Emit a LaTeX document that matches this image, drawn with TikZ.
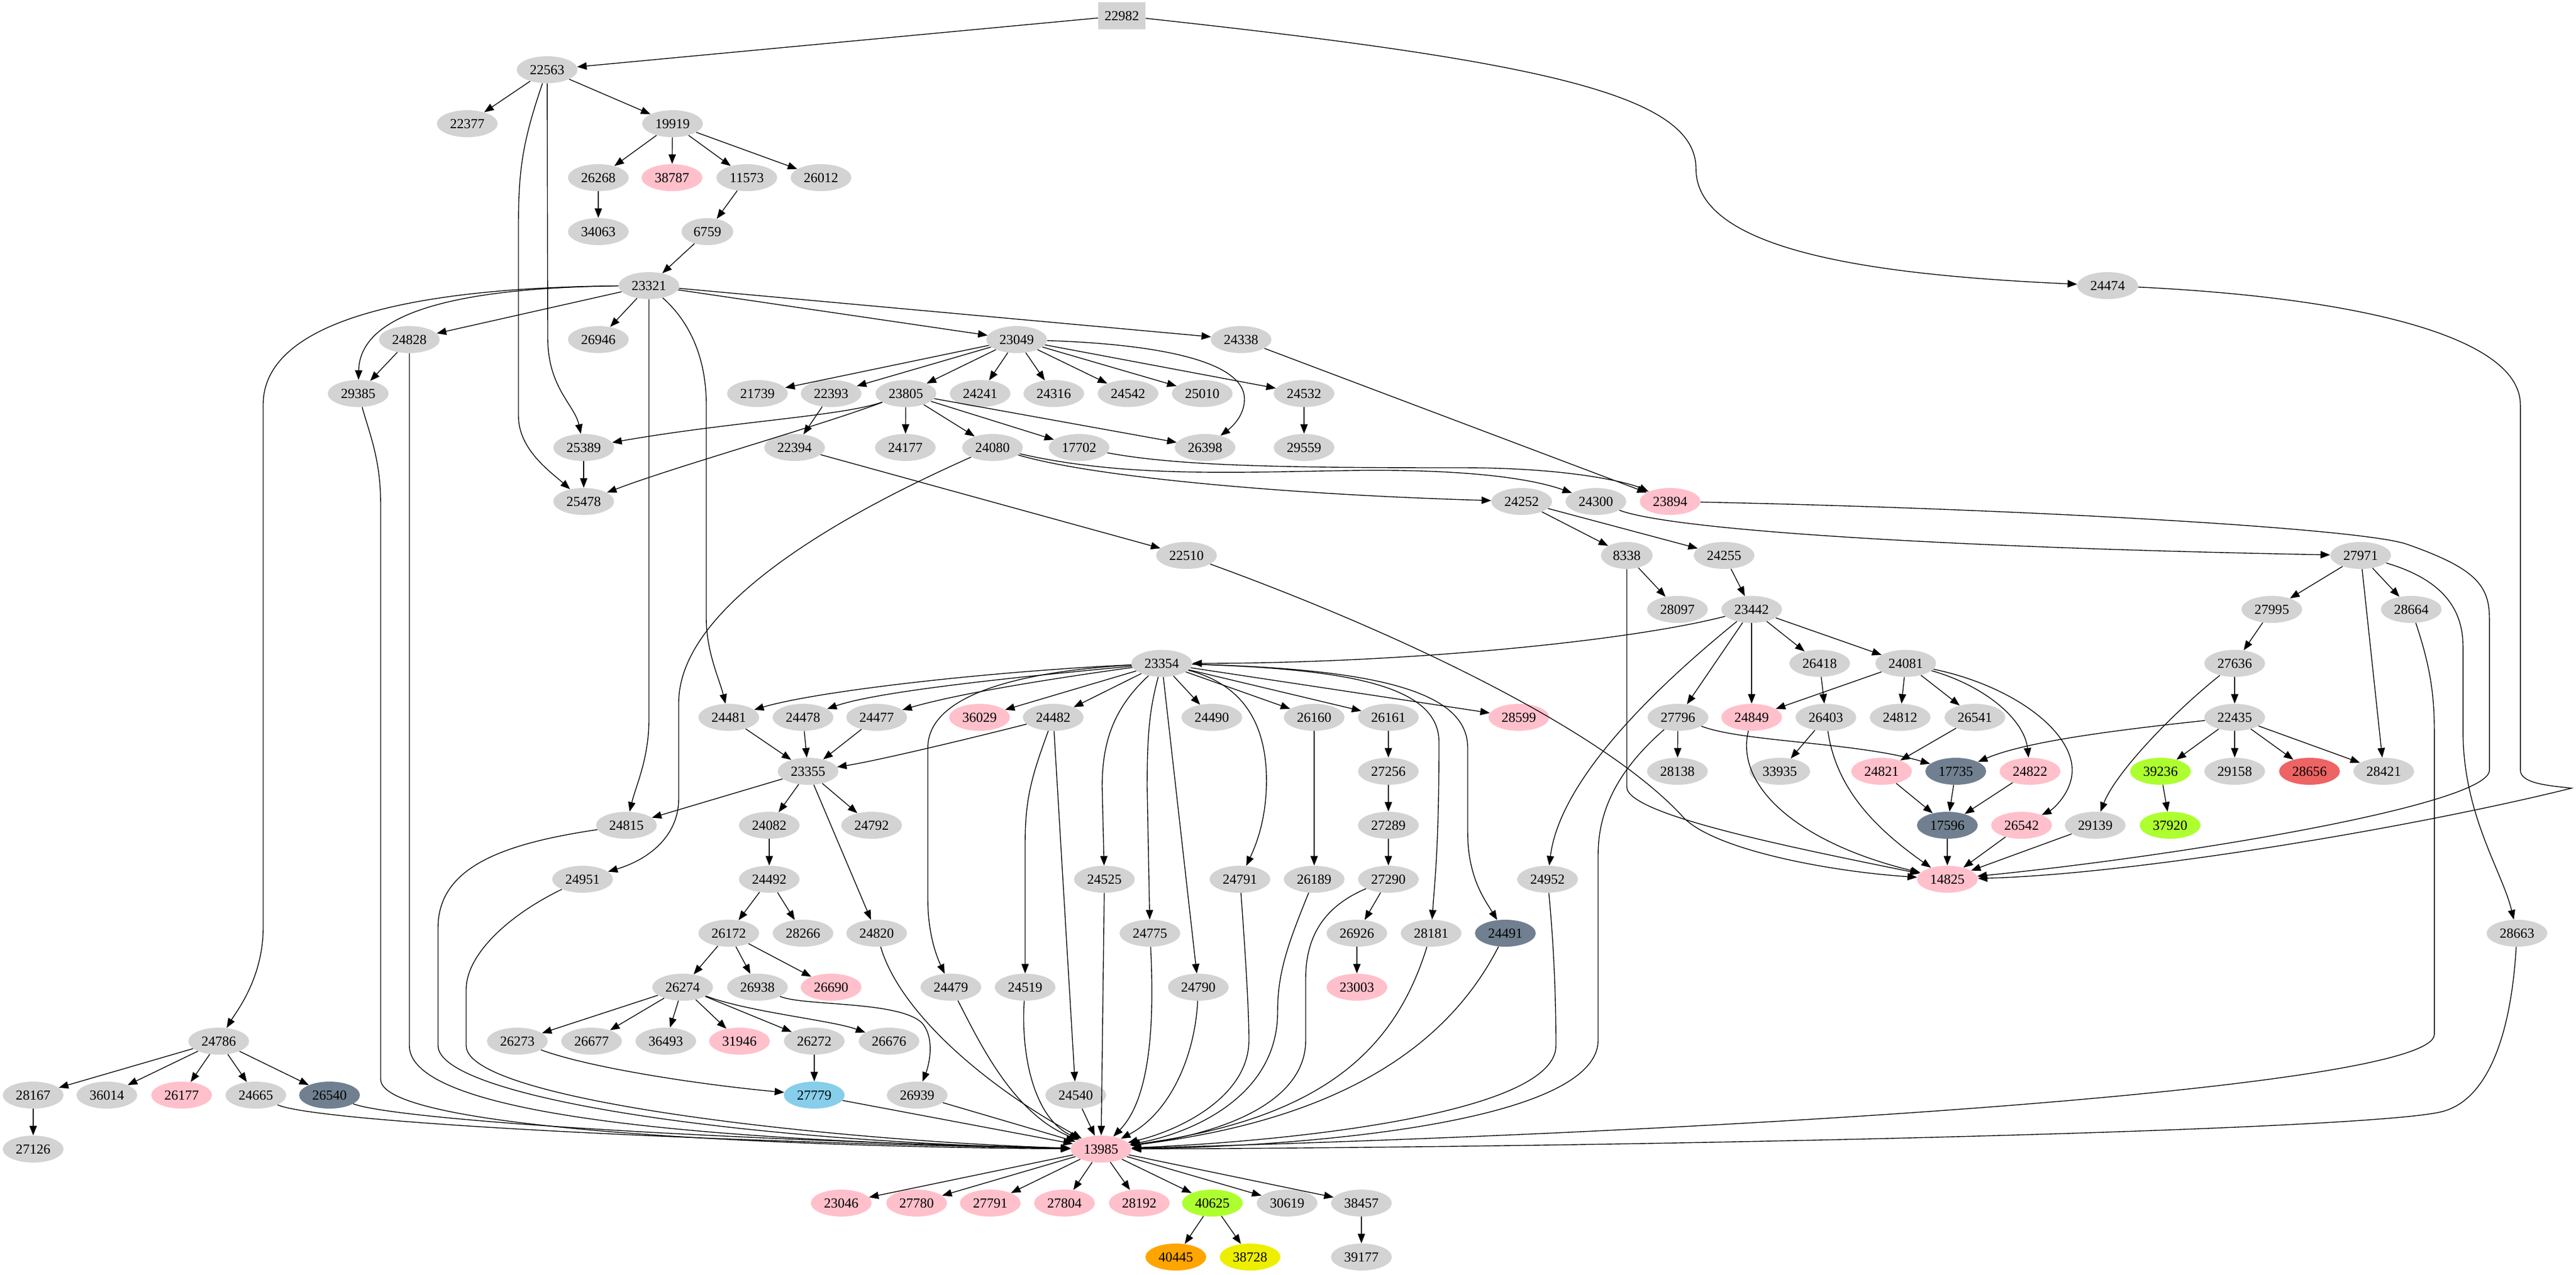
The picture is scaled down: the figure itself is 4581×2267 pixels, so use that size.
\documentclass[tikz,border=0pt]{standalone}
\usepackage{fontspec}
\setmainfont{Liberation Serif}
\usetikzlibrary{arrows.meta,shapes.geometric}
\definecolor{cgv}{RGB}{211,211,211}
\definecolor{cpk}{RGB}{255,192,203}
\definecolor{csl}{RGB}{112,128,144}
\definecolor{csb}{RGB}{135,206,235}
\definecolor{cgy}{RGB}{173,255,47}
\definecolor{cor}{RGB}{255,165,0}
\definecolor{cyl}{RGB}{238,238,0}
\definecolor{cir}{RGB}{238,99,99}
\begin{document}
\begin{tikzpicture}[x=0.5pt,y=-0.5pt,
 nd/.style={ellipse,fill=cgv,minimum width=54pt,minimum height=24pt,inner sep=0pt,font=\fontsize{12.3}{14}\selectfont},
 sm/.style={nd,minimum width=46pt},
 pnk/.style={nd,fill=cpk}, slt/.style={nd,fill=csl}, sky/.style={nd,fill=csb},
 gyl/.style={nd,fill=cgy}, orn/.style={nd,fill=cor}, yel/.style={nd,fill=cyl}, rdn/.style={nd,fill=cir},
 bx/.style={rectangle,fill=cgv,minimum width=42pt,minimum height=24pt,inner sep=0pt,font=\fontsize{12.3}{14}\selectfont},
 ed/.style={draw,line width=0.7pt,-{Triangle[length=8.5pt,width=6.5pt]}}]
\useasboundingbox (0,0) rectangle (4581,2267);
% rank 0-5
\node[bx] (n22982) at (1995,28) {22982};
\node[nd] (n22563) at (973,124) {22563};
\node[nd] (n22377) at (831,220) {22377};
\node[nd] (n19919) at (1196,220) {19919};
\node[nd] (n26268) at (1064,316) {26268};
\node[pnk] (n38787) at (1195,316) {38787};
\node[nd] (n11573) at (1328,316) {11573};
\node[nd] (n26012) at (1460,316) {26012};
\node[nd] (n34063) at (1064,412) {34063};
\node[sm] (n6759) at (1258,412) {6759};
\node[nd] (n23321) at (1154,508) {23321};
\node[nd] (n24474) at (3748,508) {24474};
% rank 6
\node[nd] (n24828) at (728,604) {24828};
\node[nd] (n26946) at (1064,604) {26946};
\node[nd] (n23049) at (1808,604) {23049};
\node[nd] (n24338) at (2207,604) {24338};
% rank 7
\node[nd] (n29385) at (637,700) {29385};
\node[nd] (n21739) at (1347,700) {21739};
\node[nd] (n22393) at (1478,700) {22393};
\node[nd] (n23805) at (1611,700) {23805};
\node[nd] (n24241) at (1743,700) {24241};
\node[nd] (n24316) at (1874,700) {24316};
\node[nd] (n24542) at (2006,700) {24542};
\node[nd] (n25010) at (2138,700) {25010};
\node[nd] (n24532) at (2319,700) {24532};
% rank 8
\node[nd] (n25389) at (1038,796) {25389};
\node[nd] (n22394) at (1413,796) {22394};
\node[nd] (n24177) at (1610,796) {24177};
\node[nd] (n24080) at (1765,796) {24080};
\node[nd] (n17702) at (1919,796) {17702};
\node[nd] (n26398) at (2143,796) {26398};
\node[nd] (n29559) at (2319,796) {29559};
% rank 9
\node[nd] (n25478) at (1038,892) {25478};
\node[nd] (n24252) at (2706,892) {24252};
\node[nd] (n24300) at (2838,892) {24300};
\node[pnk] (n23894) at (2970,892) {23894};
% rank 10
\node[nd] (n22510) at (2110,988) {22510};
\node[sm] (n8338) at (2893,988) {8338};
\node[nd] (n24255) at (3066,988) {24255};
\node[nd] (n27971) at (4198,988) {27971};
% rank 11
\node[nd] (n28097) at (2983,1084) {28097};
\node[nd] (n23442) at (3115,1084) {23442};
\node[nd] (n27995) at (4040,1084) {27995};
\node[nd] (n28664) at (4288,1084) {28664};
% rank 12
\node[nd] (n23354) at (2066,1180) {23354};
\node[nd] (n26418) at (3236,1180) {26418};
\node[nd] (n24081) at (3389,1180) {24081};
\node[nd] (n27636) at (3974,1180) {27636};
% rank 13
\node[nd] (n24481) at (1296,1276) {24481};
\node[nd] (n24478) at (1428,1276) {24478};
\node[nd] (n24477) at (1559,1276) {24477};
\node[pnk] (n36029) at (1742,1276) {36029};
\node[nd] (n24482) at (1873,1276) {24482};
\node[nd] (n24490) at (2155,1276) {24490};
\node[nd] (n26160) at (2337,1276) {26160};
\node[nd] (n26161) at (2469,1276) {26161};
\node[pnk] (n28599) at (2701,1276) {28599};
\node[nd] (n27796) at (2984,1276) {27796};
\node[pnk] (n24849) at (3115,1276) {24849};
\node[nd] (n26403) at (3247,1276) {26403};
\node[nd] (n24812) at (3379,1276) {24812};
\node[nd] (n26541) at (3512,1276) {26541};
\node[nd] (n22435) at (3974,1276) {22435};
% rank 14
\node[nd] (n23355) at (1437,1372) {23355};
\node[nd] (n27256) at (2469,1372) {27256};
\node[nd] (n28138) at (2983,1372) {28138};
\node[nd] (n33935) at (3165,1372) {33935};
\node[pnk] (n24821) at (3346,1372) {24821};
\node[slt] (n17735) at (3478,1372) {17735};
\node[pnk] (n24822) at (3610,1372) {24822};
\node[gyl] (n39236) at (3842,1372) {39236};
\node[nd] (n29158) at (3974,1372) {29158};
\node[rdn] (n28656) at (4107,1372) {28656};
\node[nd] (n28421) at (4239,1372) {28421};
% rank 15
\node[nd] (n24815) at (1114,1468) {24815};
\node[nd] (n24082) at (1368,1468) {24082};
\node[nd] (n24792) at (1550,1468) {24792};
\node[nd] (n27289) at (2469,1468) {27289};
\node[slt] (n17596) at (3463,1468) {17596};
\node[pnk] (n26542) at (3595,1468) {26542};
\node[nd] (n29139) at (3726,1468) {29139};
\node[gyl] (n37920) at (3859,1468) {37920};
% rank 16
\node[nd] (n24951) at (1036,1564) {24951};
\node[nd] (n24492) at (1368,1564) {24492};
\node[nd] (n24525) at (1964,1564) {24525};
\node[nd] (n24791) at (2205,1564) {24791};
\node[nd] (n26189) at (2337,1564) {26189};
\node[nd] (n27290) at (2469,1564) {27290};
\node[nd] (n24952) at (2752,1564) {24952};
\node[pnk] (n14825) at (3463,1564) {14825};
% rank 17
\node[nd] (n26172) at (1296,1660) {26172};
\node[nd] (n28266) at (1428,1660) {28266};
\node[nd] (n24820) at (1559,1660) {24820};
\node[nd] (n24775) at (2045,1660) {24775};
\node[nd] (n26926) at (2413,1660) {26926};
\node[nd] (n28181) at (2545,1660) {28181};
\node[slt] (n24491) at (2677,1660) {24491};
\node[nd] (n28663) at (4476,1660) {28663};
% rank 18
\node[nd] (n26274) at (1214,1756) {26274};
\node[nd] (n26938) at (1347,1756) {26938};
\node[pnk] (n26690) at (1478,1756) {26690};
\node[nd] (n24479) at (1691,1756) {24479};
\node[nd] (n24519) at (1823,1756) {24519};
\node[nd] (n24790) at (2131,1756) {24790};
\node[pnk] (n23003) at (2413,1756) {23003};
% rank 19
\node[nd] (n24786) at (389,1852) {24786};
\node[nd] (n26273) at (920,1852) {26273};
\node[nd] (n26677) at (1052,1852) {26677};
\node[nd] (n36493) at (1184,1852) {36493};
\node[pnk] (n31946) at (1315,1852) {31946};
\node[nd] (n26272) at (1448,1852) {26272};
\node[nd] (n26676) at (1581,1852) {26676};
% rank 20
\node[nd] (n28167) at (59,1948) {28167};
\node[nd] (n36014) at (190,1948) {36014};
\node[pnk] (n26177) at (323,1948) {26177};
\node[nd] (n24665) at (455,1948) {24665};
\node[slt] (n26540) at (586,1948) {26540};
\node[sky] (n27779) at (1448,1948) {27779};
\node[nd] (n26939) at (1631,1948) {26939};
\node[nd] (n24540) at (1913,1948) {24540};
% rank 21
\node[nd] (n27126) at (59,2044) {27126};
\node[pnk] (n13985) at (1958,2044) {13985};
% rank 22
\node[pnk] (n23046) at (1496,2140) {23046};
\node[pnk] (n27780) at (1630,2140) {27780};
\node[pnk] (n27791) at (1761,2140) {27791};
\node[pnk] (n27804) at (1893,2140) {27804};
\node[pnk] (n28192) at (2026,2140) {28192};
\node[gyl] (n40625) at (2156,2140) {40625};
\node[nd] (n30619) at (2289,2140) {30619};
\node[nd] (n38457) at (2421,2140) {38457};
% rank 23
\node[orn] (n40445) at (2091,2236) {40445};
\node[yel] (n38728) at (2223,2236) {38728};
\node[nd] (n39177) at (2421,2236) {39177};
% straight edges
\foreach \a/\b in {22982/22563,22563/22377,22563/19919,19919/26268,19919/38787,19919/11573,19919/26012,
 26268/34063,11573/6759,6759/23321,23321/24828,23321/26946,23321/23049,23321/24338,24828/29385,
 23049/21739,23049/22393,23049/23805,23049/24241,23049/24316,23049/24542,23049/25010,23049/24532,
 23805/24177,23805/24080,23805/17702,23805/26398,22393/22394,24532/29559,25389/25478,22394/22510,
 24338/23894,24252/8338,24252/24255,8338/28097,24255/23442,23442/26418,23442/24081,23442/24849,23442/27796,
 24081/24849,24081/24812,24081/26541,26418/26403,26403/33935,26541/24821,
 24821/17596,17735/17596,24822/17596,17596/14825,26542/14825,29139/14825,27796/28138,
 22435/39236,22435/29158,22435/28656,22435/28421,39236/37920,27971/27995,27971/28664,27971/28421,
 27995/27636,27636/22435,23354/36029,23354/24482,23354/24490,23354/26160,23354/26161,23354/28599,23354/24790,
 24482/24540,23355/24815,23355/24082,23355/24792,23355/24820,24082/24492,24492/26172,24492/28266,
 26172/26274,26172/26938,26172/26690,26274/26273,26274/26677,26274/36493,26274/31946,26274/26272,
 26272/27779,27779/13985,26939/13985,24540/13985,24525/13985,
 26160/26189,26161/27256,27256/27289,27289/27290,27290/26926,26926/23003,
 24786/28167,24786/36014,24786/26177,24786/24665,24786/26540,28167/27126,
 13985/23046,13985/27780,13985/27791,13985/27804,13985/28192,13985/40625,13985/30619,13985/38457,
 40625/40445,40625/38728,38457/39177,24481/23355,24478/23355,24477/23355}
 \draw[ed] (n\a) -- (n\b);
% curved edges
\draw[ed] (n22982) .. controls (2750,110) and (3016,170) .. (3016,300) .. controls (3016,450) and (3350,490) .. (n24474);
\draw[ed] (n22563) -- (974,600) .. controls (974,690) and (1022,720) .. (n25389);
\draw[ed] (n22563) .. controls (930,250) and (922,300) .. (922,400) -- (922,740) .. controls (922,800) and (980,840) .. (n25478);
\draw[ed] (n23321) .. controls (800,512) and (640,560) .. (n29385);
\draw[ed] (n23321) .. controls (700,512) and (468,580) .. (468,720) -- (468,1650) .. controls (468,1740) and (420,1800) .. (n24786);
\draw[ed] (n23321) -- (1154,1280) .. controls (1154,1350) and (1130,1400) .. (n24815);
\draw[ed] (n23321) .. controls (1235,580) and (1256,650) .. (1256,720) -- (1256,1100) .. controls (1256,1160) and (1280,1210) .. (n24481);
\draw[ed] (n24828) -- (728,1860) .. controls (728,1990) and (1300,2030) .. (n13985);
\draw[ed] (n29385) .. controls (660,780) and (677,820) .. (677,900) -- (677,1920) .. controls (677,2010) and (1400,2040) .. (n13985);
\draw[ed] (n24665) .. controls (560,1995) and (1200,2030) .. (n13985);
\draw[ed] (n26540) .. controls (700,1990) and (1200,2025) .. (n13985);
\draw[ed] (n24815) .. controls (900,1500) and (779,1540) .. (779,1650) -- (779,1860) .. controls (779,1950) and (1300,2030) .. (n13985);
\draw[ed] (n24951) .. controls (900,1630) and (829,1700) .. (829,1760) -- (829,1860) .. controls (829,1960) and (1500,2030) .. (n13985);
\draw[ed] (n24080) .. controls (1600,870) and (1207,1050) .. (1207,1250) -- (1207,1420) .. controls (1207,1490) and (1150,1530) .. (n24951);
\draw[ed] (n22510) .. controls (2500,1130) and (2850,1300) .. (2990,1450) .. controls (3040,1510) and (3250,1550) .. (n14825);
\draw[ed] (n8338) -- (2893,1400) .. controls (2893,1450) and (3200,1510) .. (n14825);
\draw[ed] (n24849) .. controls (3085,1400) and (3200,1500) .. (n14825);
\draw[ed] (n26403) .. controls (3265,1400) and (3330,1470) .. (n14825);
\draw[ed] (n24081) .. controls (3530,1220) and (3600,1280) .. (n24822);
\draw[ed] (n24081) .. controls (3580,1220) and (3685,1300) .. (3685,1370) .. controls (3685,1410) and (3650,1440) .. (n26542);
\draw[ed] (n27796) .. controls (3100,1320) and (3300,1320) .. (n17735);
\draw[ed] (n22435) .. controls (3750,1300) and (3600,1320) .. (n17735);
\draw[ed] (n27971) .. controls (4340,1030) and (4380,1080) .. (4380,1150) -- (4380,1300) .. controls (4380,1450) and (4450,1550) .. (n28663);
\draw[ed] (n28664) .. controls (4320,1180) and (4329,1230) .. (4329,1300) -- (4329,1840) .. controls (4329,1930) and (3200,2010) .. (n13985);
\draw[ed] (n28663) .. controls (4465,1850) and (4420,1960) .. (4340,1978) .. controls (4200,2010) and (3000,2040) .. (n13985);
\draw[ed] (n24474) .. controls (4200,530) and (4482,600) .. (4482,720) -- (4482,1370) .. controls (4482,1395) and (4540,1398) .. (4573,1402) .. controls (4300,1470) and (3800,1555) .. (n14825);
\draw[ed] (n23894) .. controls (3600,905) and (4200,940) .. (4280,968) .. controls (4400,1010) and (4427,1040) .. (4427,1100) -- (4427,1370) .. controls (4427,1430) and (3900,1520) .. (n14825);
\draw[ed] (n24300) .. controls (2980,945) and (3500,975) .. (n27971);
\draw[ed] (n24080) .. controls (2000,850) and (2200,840) .. (2400,837) .. controls (2600,834) and (2720,850) .. (n24300);
\draw[ed] (n24080) .. controls (1950,850) and (2300,880) .. (n24252);
\draw[ed] (n17702) .. controls (2100,830) and (2300,832) .. (2600,832) .. controls (2800,832) and (2900,860) .. (n23894);
\draw[ed] (n23805) .. controls (1500,740) and (1300,750) .. (n25389);
\draw[ed] (n23805) .. controls (1450,760) and (1200,830) .. (n25478);
\draw[ed] (n23049) .. controls (2050,612) and (2213,640) .. (2213,710) .. controls (2213,740) and (2190,760) .. (n26398);
\draw[ed] (n23442) .. controls (2900,1140) and (2500,1180) .. (n23354);
\draw[ed] (n23442) .. controls (2960,1210) and (2775,1380) .. (n24952);
\draw[ed] (n27796) .. controls (2900,1350) and (2842,1420) .. (2842,1520) -- (2842,1850) .. controls (2842,2000) and (2300,2040) .. (n13985);
\draw[ed] (n23354) .. controls (1750,1195) and (1450,1230) .. (n24481);
\draw[ed] (n23354) .. controls (1800,1205) and (1560,1230) .. (n24478);
\draw[ed] (n23354) .. controls (1850,1210) and (1700,1235) .. (n24477);
\draw[ed] (n23354) .. controls (1800,1195) and (1650,1240) .. (1650,1330) -- (1650,1600) .. controls (1650,1660) and (1665,1700) .. (n24479);
\draw[ed] (n23354) .. controls (1980,1260) and (1960,1320) .. (1960,1400) -- (n24525);
\draw[ed] (n23354) .. controls (2045,1260) and (2040,1300) .. (2040,1400) -- (n24775);
\draw[ed] (n23354) .. controls (2220,1220) and (2255,1300) .. (2252,1400) .. controls (2250,1460) and (2235,1500) .. (n24791);
\draw[ed] (n23354) .. controls (2400,1190) and (2559,1220) .. (2559,1320) .. controls (2559,1500) and (2552,1560) .. (n28181);
\draw[ed] (n23354) .. controls (2450,1190) and (2610,1230) .. (2610,1330) -- (2610,1480) .. controls (2610,1560) and (2640,1600) .. (n24491);
\draw[ed] (n24482) .. controls (1700,1320) and (1550,1355) .. (n23355);
\draw[ed] (n24482) .. controls (1835,1380) and (1823,1420) .. (1823,1500) -- (n24519);
\draw[ed] (n26274) .. controls (1330,1800) and (1480,1815) .. (n26676);
\draw[ed] (n26938) .. controls (1430,1790) and (1600,1780) .. (1640,1820) .. controls (1665,1850) and (1650,1900) .. (n26939);
\draw[ed] (n26273) .. controls (1050,1900) and (1250,1930) .. (n27779);
\draw[ed] (n24820) .. controls (1600,1800) and (1750,1930) .. (n13985);
\draw[ed] (n24479) .. controls (1740,1850) and (1800,1980) .. (n13985);
\draw[ed] (n24519) .. controls (1815,1880) and (1840,1990) .. (n13985);
\draw[ed] (n24775) .. controls (2052,1800) and (2050,1950) .. (n13985);
\draw[ed] (n24790) .. controls (2125,1880) and (2080,1980) .. (n13985);
\draw[ed] (n24791) .. controls (2215,1700) and (2221,1800) .. (2221,1850) .. controls (2221,1950) and (2100,2010) .. (n13985);
\draw[ed] (n26189) .. controls (2290,1680) and (2272,1730) .. (2272,1800) .. controls (2272,1960) and (2100,2020) .. (n13985);
\draw[ed] (n27290) .. controls (2360,1610) and (2322,1660) .. (2322,1740) -- (2322,1850) .. controls (2322,1970) and (2150,2020) .. (n13985);
\draw[ed] (n28181) .. controls (2480,1870) and (2350,1990) .. (n13985);
\draw[ed] (n24491) .. controls (2580,1850) and (2400,1990) .. (n13985);
\draw[ed] (n24952) .. controls (2765,1700) and (2767,1800) .. (2767,1860) .. controls (2767,1980) and (2300,2030) .. (n13985);
\draw[ed] (n27636) .. controls (3850,1280) and (3760,1380) .. (n29139);
\end{tikzpicture}
\end{document}
